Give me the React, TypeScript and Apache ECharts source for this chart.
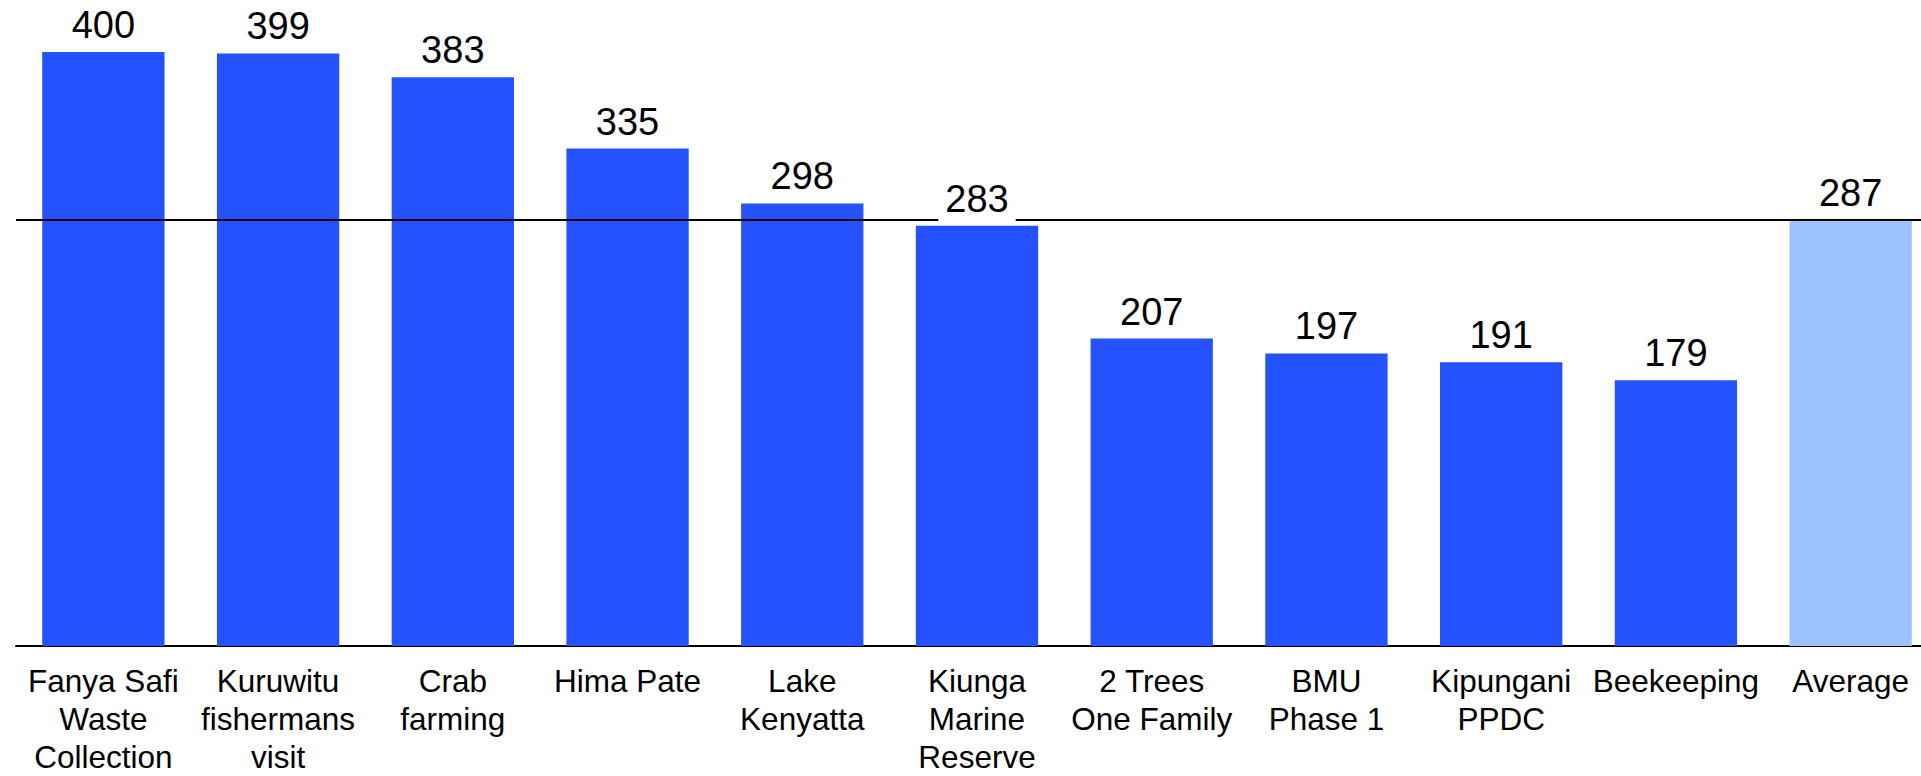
import React, { useEffect, useRef } from "react";
import * as echarts from "echarts";

const categories: string[] = [
  "Fanya Safi\nWaste\nCollection",
  "Kuruwitu\nfishermans\nvisit",
  "Crab\nfarming",
  "Hima Pate",
  "Lake\nKenyatta",
  "Kiunga\nMarine\nReserve",
  "2 Trees\nOne Family",
  "BMU\nPhase 1",
  "Kipungani\nPPDC",
  "Beekeeping",
  "Average",
];

const values: number[] = [400, 399, 383, 335, 298, 283, 207, 197, 191, 179, 287];

const averageValue = 287;
const averageCategory = "Average";

const BLUE = "#2452FF";
const LIGHT_BLUE = "#9CC3FF";
const FONT = "'Liberation Sans', Arial, sans-serif";

export default function App() {
  const ref = useRef<HTMLDivElement>(null);

  useEffect(() => {
    if (!ref.current) return;
    const chart = echarts.init(ref.current, undefined, { renderer: "svg" });
    const barData = values.map((v, i) => ({
      value: v,
      itemStyle: { color: categories[i] === averageCategory ? LIGHT_BLUE : BLUE },
    }));
    chart.setOption({
      animation: false,
      backgroundColor: "#ffffff",
      grid: { left: 16, top: 52, bottom: 124, right: 2, containLabel: false },
      xAxis: {
        type: "category",
        data: categories,
        axisLine: { show: true, lineStyle: { color: "#000", width: 2 } },
        axisTick: { show: false },
        axisLabel: {
          interval: 0,
          color: "#000",
          fontSize: 31.5,
          lineHeight: 38,
          fontFamily: FONT,
          margin: 16,
        },
      },
      yAxis: {
        type: "value",
        min: 0,
        max: 400,
        show: false,
        splitLine: { show: false },
      },
      series: [
        {
          type: "bar",
          data: barData,
          barWidth: "70%",
          z: 2,
          label: { show: false },
          markLine: {
            silent: true,
            symbol: "none",
            z: 5,
            label: { show: false },
            lineStyle: { color: "#000", width: 2, type: "solid" },
            data: [{ yAxis: averageValue }],
          },
        },
        {
          type: "bar",
          data: values,
          barWidth: "70%",
          barGap: "-100%",
          z: 10,
          silent: true,
          itemStyle: { color: "rgba(0,0,0,0)" },
          label: {
            show: true,
            position: "top",
            distance: 4,
            color: "#000",
            fontSize: 38,
            fontFamily: FONT,
            backgroundColor: "#fff",
            padding: [0, 7, 4, 7],
          },
        },
      ],
    });
    return () => chart.dispose();
  }, []);

  return (
    <div
      style={{
        position: "absolute",
        left: 0,
        top: 0,
        width: 1921,
        height: 776,
        overflow: "hidden",
      }}
    >
      <div ref={ref} style={{ width: 1940, height: 776 }} />
    </div>
  );
}
